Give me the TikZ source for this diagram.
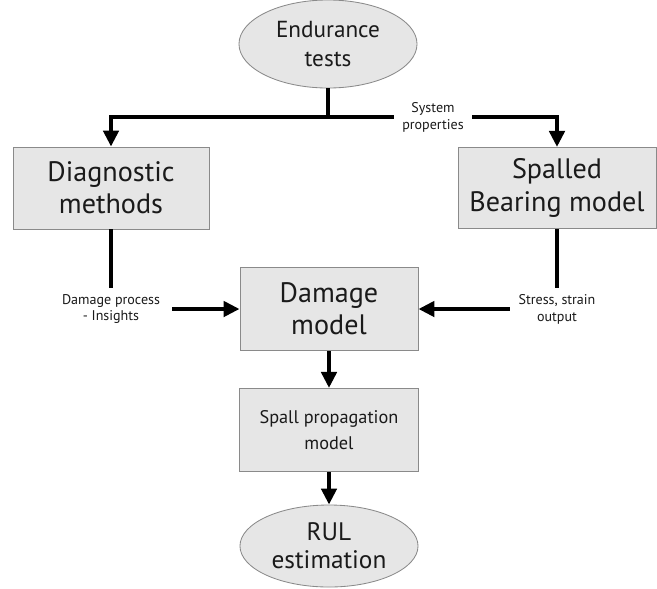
\documentclass[tikz,border=0pt]{standalone}
\usepackage{fontspec}
\setmainfont{PT Sans}
\usepackage{tikz}
\usetikzlibrary{arrows.meta,shapes.geometric}
\definecolor{boxfill}{HTML}{E6E6E6}
\definecolor{boxline}{HTML}{8A8A8A}
\definecolor{inkgray}{HTML}{1A1A1A}

\begin{document}
\begin{tikzpicture}[x=0.025cm, y=-0.025cm, every node/.style={text=inkgray}]
    \tikzstyle{block}=[rectangle,fill=boxfill,draw=boxline,line width=0.6pt,align=center,inner sep=0pt]
    \tikzstyle{terminal}=[ellipse,fill=boxfill,draw=boxline,line width=0.6pt,align=center,inner sep=0pt]
    \tikzstyle{note}=[fill=white,align=center,inner sep=0pt,font=\fontsize{10}{12}\selectfont]
    \tikzstyle{flow}=[line width=0.12cm,black]
    \tikzstyle{flowarrow}=[flow,-{Triangle[length=0.4cm,width=0.38cm]}]
    \useasboundingbox (0,0) rectangle (657,588);
    % nodes
    \node[terminal,minimum width=4.45cm,minimum height=2.2cm,font=\fontsize{16.5}{20}\selectfont] (endu) at (328,44) {Endurance\\tests};
    \node[block,minimum width=4.9cm,minimum height=2.05cm,font=\fontsize{20}{23}\selectfont] (diag) at (111,188) {Diagnostic\\methods};
    \node[block,minimum width=4.95cm,minimum height=2.03cm,font=\fontsize{20}{23}\selectfont] (spalled) at (557,188) {Spalled\\Bearing model};
    \node[block,minimum width=4.45cm,minimum height=2.08cm,font=\fontsize{20}{23}\selectfont] (damage) at (329,309) {Damage\\model};
    \node[block,minimum width=4.475cm,minimum height=2.08cm,font=\fontsize{13}{18}\selectfont] (spall) at (329,430) {Spall propagation\\model};
    \node[terminal,minimum width=4.45cm,minimum height=2.05cm,font=\fontsize{18}{20}\selectfont] (rul) at (329,546) {RUL\\estimation};
    \coordinate (split) at (328,117);
    % connectors
    \draw[flow] (endu.south) -- (split);
    \draw[flowarrow] (split) -| (diag.north);
    \draw[flowarrow] (split) -| (spalled.north);
    \node[note,minimum width=1.95cm,minimum height=0.9cm] (sysprop) at (433,117) {System\\properties};
    \node[note,minimum width=3.05cm,minimum height=1.02cm] (insight) at (111,309) {Damage process\\- Insights};
    \node[note,minimum width=2.35cm,minimum height=1.02cm] (stress) at (557,309) {Stress, strain\\output};
    \draw[flow] (diag.south) -- (insight.north);
    \draw[flow] (spalled.south) -- (stress.north);
    \draw[flowarrow] (insight.east) -- (damage.west);
    \draw[flowarrow] (stress.west) -- (damage.east);
    \draw[flowarrow] (damage.south) -- (spall.north);
    \draw[flowarrow] (spall.south) -- (rul.north);
\end{tikzpicture}
\end{document}
